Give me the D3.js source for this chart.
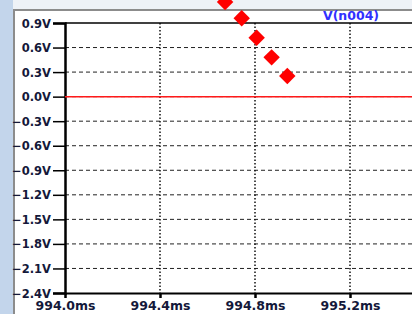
<!DOCTYPE html>
<html>
<head>
<meta charset="utf-8">
<script src="https://cdn.jsdelivr.net/npm/d3@7"></script>
<style>
  html, body { margin: 0; padding: 0; background: #fff; overflow: hidden; }
  svg { display: block; }
  .tick-label { font-family: "DejaVu Sans", Verdana, sans-serif; font-weight: bold; font-size: 11.5px; fill: #14183a; }
  .x-label { font-size: 12.5px; }
</style>
</head>
<body>
<svg id="chart"></svg>
<script>
// tick values
var xTicks = [994.0, 994.4, 994.8, 995.2];
var yTicks = [0.9, 0.6, 0.3, 0.0, -0.3, -0.6, -0.9, -1.2, -1.5, -1.8, -2.1, -2.4];

// trace V(n004): flat line at 0 V
var lineTime = [994.0, 995.6];
var lineVolt = [0.0, 0.0];

// red diamond markers (ms, V)
var markTime = [994.674, 994.744, 994.807, 994.870, 994.936];
var markVolt = [1.157, 0.957, 0.720, 0.480, 0.252];

var seriesName = "V(n004)";

var width = 412, height = 314;
var plotLeft = 65, plotTop = 23, plotBottom = 293;

var svg = d3.select("#chart")
    .attr("width", width)
    .attr("height", height);

// window background / frame
svg.append("rect").attr("x", 0).attr("y", 0).attr("width", width).attr("height", height).attr("fill", "#eef2f7");
svg.append("rect").attr("x", 0).attr("y", 0).attr("width", 13).attr("height", height).attr("fill", "#c3d5eb");
svg.append("rect").attr("x", 13).attr("y", 9).attr("width", width - 13).attr("height", height - 9).attr("fill", "#8c8c8c");
svg.append("rect").attr("x", 15).attr("y", 11).attr("width", width - 15).attr("height", height - 11).attr("fill", "#ffffff");

var x = d3.scaleLinear().domain([994.0, 995.6]).range([plotLeft, plotLeft + 1.6 / 0.4 * 95]);
var y = d3.scaleLinear().domain([-2.4, 0.9]).range([plotBottom, plotTop]);

// horizontal dashed grid
svg.append("g").selectAll("line")
    .data(yTicks.filter(function(d) { return d !== 0.9 && d !== -2.4; }))
    .enter().append("line")
    .attr("x1", plotLeft).attr("x2", width)
    .attr("y1", function(d) { return y(d); })
    .attr("y2", function(d) { return y(d); })
    .attr("stroke", "#222")
    .attr("stroke-width", 1)
    .attr("stroke-dasharray", "4,3");

// vertical dotted grid
svg.append("g").selectAll("line")
    .data(xTicks.slice(1))
    .enter().append("line")
    .attr("x1", function(d) { return x(d); })
    .attr("x2", function(d) { return x(d); })
    .attr("y1", plotTop).attr("y2", plotBottom)
    .attr("stroke", "#111")
    .attr("stroke-width", 1.5)
    .attr("stroke-dasharray", "1.5,2");

// top border
svg.append("line")
    .attr("x1", plotLeft).attr("x2", width)
    .attr("y1", plotTop).attr("y2", plotTop)
    .attr("stroke", "#000").attr("stroke-width", 1.5);

// y axis
var yAxis = d3.axisLeft(y)
    .tickValues(yTicks)
    .tickSize(12)
    .tickPadding(2)
    .tickFormat(function(d) { return d3.format(".1f")(d) + "V"; });
var gy = svg.append("g").attr("transform", "translate(" + plotLeft + ",0)").call(yAxis);
gy.select(".domain").attr("stroke", "#000").attr("stroke-width", 2.5);
gy.selectAll(".tick line").attr("stroke", "#000").attr("stroke-width", 1.5);
gy.selectAll(".tick text").attr("class", "tick-label").attr("dy", "0.35em");

// x axis
var xAxis = d3.axisBottom(x)
    .tickValues(xTicks)
    .tickSize(5)
    .tickSizeOuter(0)
    .tickPadding(3)
    .tickFormat(function(d) { return d3.format(".1f")(d) + "ms"; });
var gx = svg.append("g").attr("transform", "translate(0," + plotBottom + ")").call(xAxis);
gx.select(".domain").attr("stroke", "#000").attr("stroke-width", 2);
gx.selectAll(".tick line").attr("stroke", "#000").attr("stroke-width", 2.5);
gx.selectAll(".tick text").attr("class", "tick-label x-label").attr("dy", "0.7em");

// trace
var line = d3.line()
    .x(function(d, i) { return x(lineTime[i]); })
    .y(function(d, i) { return y(lineVolt[i]); });
svg.append("path")
    .datum(lineTime)
    .attr("d", line)
    .attr("fill", "none")
    .attr("stroke", "#ff1a1a")
    .attr("stroke-width", 1.5);

// markers
svg.append("g").selectAll("path")
    .data(markTime)
    .enter().append("path")
    .attr("d", d3.symbol().type(d3.symbolSquare).size(135))
    .attr("transform", function(d, i) {
        return "translate(" + x(d) + "," + y(markVolt[i]) + ") rotate(45)";
    })
    .attr("fill", "#ff0000");

// series label
svg.append("text")
    .attr("x", 351)
    .attr("y", 20)
    .attr("text-anchor", "middle")
    .attr("font-family", "DejaVu Sans, Verdana, sans-serif")
    .attr("font-weight", "bold")
    .attr("font-size", 12.5)
    .attr("fill", "#3030ff")
    .text(seriesName);
</script>
</body>
</html>
